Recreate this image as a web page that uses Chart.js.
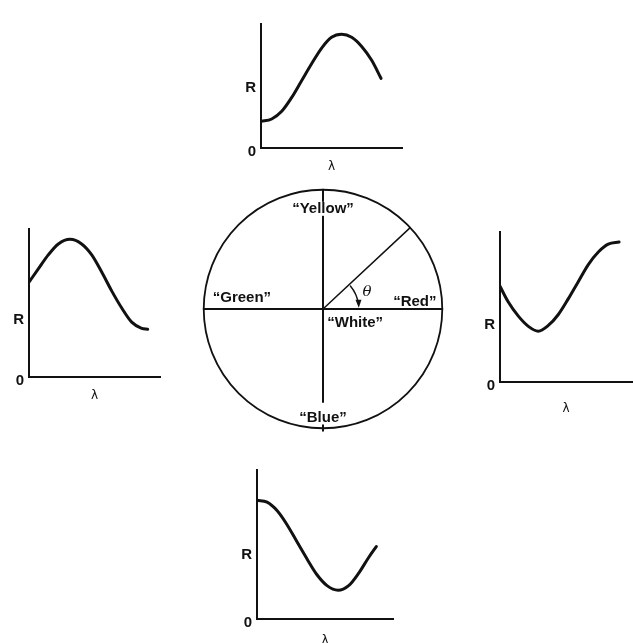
<!DOCTYPE html>
<html>
<head>
<meta charset="utf-8">
<script src="https://cdn.jsdelivr.net/npm/chart.js@4.4.0/dist/chart.umd.min.js"></script>
<style>
  body { margin: 0; background: #fff; width: 633px; height: 643px; position: relative; overflow: hidden; }
  canvas { position: absolute; }
</style>
</head>
<body>
<canvas id="cTop"></canvas>
<canvas id="cLeft"></canvas>
<canvas id="cRight"></canvas>
<canvas id="cBottom"></canvas>
<canvas id="cWheel"></canvas>
<script>
// Spectral reflectance curves (x = wavelength, 0..1 of axis; y = R, 0..1 of axis)
const lambdaTop = [0, 0.076, 0.147, 0.218, 0.289, 0.36, 0.43, 0.50, 0.572, 0.643, 0.714, 0.785, 0.851];
const reflTop   = [0.214, 0.234, 0.296, 0.408, 0.545, 0.681, 0.806, 0.893, 0.918, 0.893, 0.819, 0.707, 0.562];

const lambdaLeft = [0, 0.071, 0.147, 0.224, 0.313, 0.402, 0.479, 0.555, 0.631, 0.708, 0.784, 0.860, 0.906];
const reflLeft   = [0.641, 0.730, 0.825, 0.899, 0.930, 0.899, 0.825, 0.709, 0.582, 0.466, 0.371, 0.329, 0.323];

const lambdaRight = [0, 0.063, 0.139, 0.215, 0.29, 0.366, 0.442, 0.517, 0.593, 0.669, 0.745, 0.82, 0.902];
const reflRight   = [0.638, 0.533, 0.439, 0.371, 0.339, 0.377, 0.45, 0.554, 0.669, 0.783, 0.867, 0.919, 0.933];

const lambdaBottom = [0, 0.074, 0.147, 0.221, 0.294, 0.368, 0.441, 0.515, 0.596, 0.674, 0.748, 0.821, 0.877];
const reflBottom   = [0.797, 0.784, 0.728, 0.633, 0.518, 0.403, 0.297, 0.224, 0.193, 0.224, 0.308, 0.413, 0.486];

// Colour circle labels (unit circle coordinates)
const wheelNames = ['\u201CYellow\u201D', '\u201CGreen\u201D', '\u201CRed\u201D', '\u201CWhite\u201D', '\u201CBlue\u201D'];
const wheelX = [0, -0.68, 0.77, 0.27, 0];
const wheelY = [0.84, 0.09, 0.06, -0.12, -0.91];
const thetaDeg = 43;

const FONT = '"Liberation Sans", Arial, sans-serif';

// panel boxes: plot area on the page
const panels = [
  { id: 'cTop',    left: 261, top: 14,  w: 141, h: 134, lamGap: 18, rTick: 0.52, xs: lambdaTop,    ys: reflTop },
  { id: 'cLeft',   left: 29,  top: 219, w: 131, h: 158, lamGap: 18, rTick: 0.41, xs: lambdaLeft,   ys: reflLeft },
  { id: 'cRight',  left: 500, top: 222, w: 132, h: 160, lamGap: 26, rTick: 0.41, xs: lambdaRight,  ys: reflRight },
  { id: 'cBottom', left: 257, top: 460, w: 136, h: 159, lamGap: 21, rTick: 0.46, xs: lambdaBottom, ys: reflBottom }
];

const YW = 22, PAD = 4;

panels.forEach(p => {
  const cv = document.getElementById(p.id);
  cv.width = YW + p.w + PAD;
  cv.height = PAD + p.h + p.lamGap + 8;
  cv.style.left = (p.left - YW) + 'px';
  cv.style.top = (p.top - PAD) + 'px';

  new Chart(cv, {
    type: 'line',
    data: {
      datasets: [{
        data: p.xs.map((x, i) => ({ x: x, y: p.ys[i] })),
        borderColor: '#111',
        borderWidth: 3,
        borderCapStyle: 'round',
        pointRadius: 0,
        cubicInterpolationMode: 'monotone',
        fill: false
      }]
    },
    options: {
      responsive: false,
      animation: false,
      layout: { padding: { top: PAD, right: PAD, left: 0, bottom: 0 } },
      plugins: { legend: { display: false }, tooltip: { enabled: false } },
      scales: {
        x: {
          type: 'linear', min: 0, max: 1,
          grid: { display: false },
          border: { display: true, color: '#111', width: 2 },
          ticks: { display: false },
          title: { display: true, text: '\u03BB', color: '#111', padding: 0,
                   font: { family: '"DejaVu Sans", sans-serif', size: 12 } },
          afterFit: s => { s.height = p.lamGap + 8; }
        },
        y: {
          type: 'linear', min: 0, max: 1,
          grid: { display: false, drawTicks: false },
          border: { display: true, color: '#111', width: 2 },
          afterBuildTicks: s => { s.ticks = [{ value: 0 }, { value: p.rTick }]; },
          ticks: {
            autoSkip: false, padding: 5, labelOffset: 4, color: '#111',
            font: { family: FONT, size: 15, weight: 'bold' },
            callback: v => (v === 0 ? '0' : 'R')
          },
          afterFit: s => { s.width = YW; }
        }
      }
    }
  });
});

// colour circle
const wheelPlugin = {
  id: 'wheel',
  afterDatasetsDraw(chart) {
    const { ctx, scales: { x, y } } = chart;
    const px = v => x.getPixelForValue(v);
    const py = v => y.getPixelForValue(v);
    const cx = px(0), cy = py(0);
    const r = px(1) - cx;
    ctx.save();
    ctx.strokeStyle = '#111';
    ctx.lineCap = 'round';

    ctx.lineWidth = 1.8;
    ctx.beginPath();
    ctx.arc(cx, cy, r, 0, Math.PI * 2);
    ctx.stroke();

    ctx.lineWidth = 2;
    ctx.beginPath();
    ctx.moveTo(px(-1), cy); ctx.lineTo(px(1), cy);
    ctx.moveTo(cx, py(1)); ctx.lineTo(cx, py(-0.78));
    ctx.moveTo(cx, py(-0.975)); ctx.lineTo(cx, py(-1.02));
    ctx.stroke();

    const t = thetaDeg * Math.PI / 180;
    ctx.lineWidth = 1.5;
    ctx.beginPath();
    ctx.moveTo(cx, cy);
    ctx.lineTo(px(Math.cos(t)), py(Math.sin(t)));
    ctx.stroke();

    // theta arc with arrow
    const ra = 0.30 * r;
    const a0 = -40 * Math.PI / 180, a1 = -8 * Math.PI / 180;
    ctx.lineWidth = 1.4;
    ctx.beginPath();
    ctx.arc(cx, cy, ra, a0, a1);
    ctx.stroke();
    const tipA = -2 * Math.PI / 180;
    const tx = cx + ra * Math.cos(tipA), ty = cy + ra * Math.sin(tipA);
    const dx = -Math.sin(tipA), dy = Math.cos(tipA);
    const nx = -dy, ny = dx;
    ctx.fillStyle = '#111';
    ctx.beginPath();
    ctx.moveTo(tx, ty);
    ctx.lineTo(tx - 8 * dx + 3 * nx, ty - 8 * dy + 3 * ny);
    ctx.lineTo(tx - 8 * dx - 3 * nx, ty - 8 * dy - 3 * ny);
    ctx.closePath();
    ctx.fill();

    ctx.font = 'italic 15px "DejaVu Serif", serif';
    ctx.textAlign = 'center';
    ctx.textBaseline = 'middle';
    ctx.fillText('\u03B8', px(0.37), py(0.14));

    ctx.font = 'bold 15px ' + FONT;
    wheelNames.forEach((n, i) => {
      const lx = px(wheelX[i]), ly = py(wheelY[i]);
      if (i === 0) {
        // the vertical spoke is broken where "Yellow" sits
        const w = ctx.measureText(n).width;
        ctx.fillStyle = '#fff';
        ctx.fillRect(lx - w / 2 - 1, ly - 7, w + 2, 14);
      }
      ctx.fillStyle = '#111';
      ctx.fillText(n, lx, ly);
    });
    ctx.restore();
  }
};

const wc = document.getElementById('cWheel');
wc.width = 260; wc.height = 260;
wc.style.left = '193px'; wc.style.top = '179px';
new Chart(wc, {
  type: 'scatter',
  data: { datasets: [{ data: wheelX.map((x, i) => ({ x: x, y: wheelY[i] })), pointRadius: 0 }] },
  options: {
    responsive: false,
    animation: false,
    layout: { padding: 0 },
    plugins: { legend: { display: false }, tooltip: { enabled: false } },
    scales: {
      x: { display: false, min: -1.09, max: 1.09 },
      y: { display: false, min: -1.09, max: 1.09 }
    }
  },
  plugins: [wheelPlugin]
});
</script>
</body>
</html>
